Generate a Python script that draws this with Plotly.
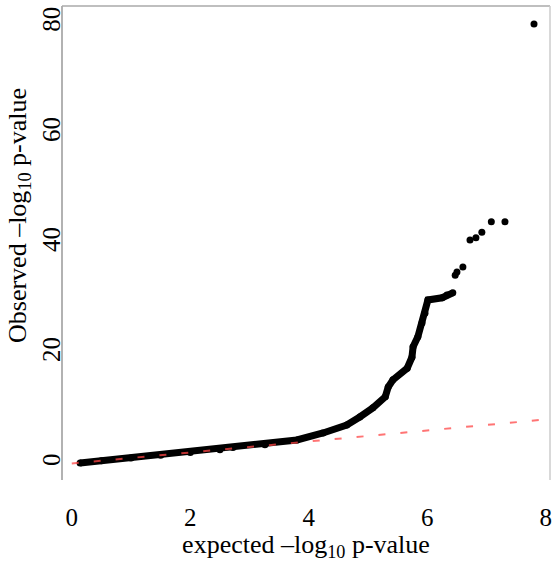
import plotly.graph_objects as go

# Observed vs expected -log10 p-values (dense part of the QQ curve)
expected_dense = [0.14, 0.5, 1.0, 1.5, 2.0, 2.5, 2.72, 3.26, 3.8, 4.24, 4.64, 4.86, 5.08, 5.29,
                  5.34, 5.42, 5.66, 5.74, 5.76, 5.84, 5.91, 5.96, 6.01, 6.25, 6.33, 6.43]
observed_dense = [0.09, 0.5, 1.0, 1.5, 2.0, 2.5, 2.9, 3.4, 4.27, 5.54, 6.99, 8.45, 10.1, 12.1,
                  13.9, 15.2, 17.3, 19.3, 21.2, 23.0, 25.5, 27.3, 29.7, 30.1, 30.6, 31.0]

# Sparse top points
expected_top = [6.47, 6.50, 6.60, 6.72, 6.82, 6.92, 7.08, 7.31, 7.80]
observed_top = [34.2, 34.8, 35.7, 40.6, 41.0, 42.0, 43.9, 43.9, 79.8]

# Null expectation line y = x
null_x = [0.0, 8.2]
null_y = [0.0, 8.2]

x_ticks = [0, 2, 4, 6, 8]
y_ticks = [0, 20, 40, 60, 80]

x_title = "expected \u2013log<sub>10</sub> p-value"
y_title = "Observed \u2013log<sub>10</sub> p-value"

font_family = "Liberation Serif, Times New Roman, serif"

fig = go.Figure()
fig.add_trace(go.Scatter(
    x=expected_dense, y=observed_dense, mode="lines+markers",
    line=dict(color="black", width=7),
    marker=dict(color="black", size=7),
    showlegend=False, hoverinfo="skip"))
fig.add_trace(go.Scatter(
    x=expected_top, y=observed_top, mode="markers",
    marker=dict(color="black", size=7),
    showlegend=False))
fig.add_trace(go.Scatter(
    x=null_x, y=null_y, mode="lines",
    line=dict(color="rgba(255,70,70,0.75)", width=2, dash="7px,15px"),
    showlegend=False))

fig.update_layout(
    width=553, height=562,
    margin=dict(l=62, r=3, t=6, b=82, autoexpand=False),
    paper_bgcolor="white", plot_bgcolor="white",
    font=dict(family=font_family, size=25, color="black"),
    xaxis=dict(
        range=[-0.165, 8.07], tickvals=x_ticks, showgrid=False, zeroline=False,
        showline=False, ticks="outside", ticklen=15, tickcolor="rgba(0,0,0,0)",
        tickfont=dict(size=25), automargin=False, ticklabeloverflow="allow",
        title=dict(text=x_title, font=dict(size=26), standoff=8),
    ),
    yaxis=dict(
        range=[-3.0, 83.09], tickvals=y_ticks, showgrid=False, zeroline=False,
        showline=False, ticks="", ticklabelstandoff=-4, ticklabeloverflow="allow",
        tickangle=-90, tickfont=dict(size=25), automargin=False,
    ),
    annotations=[
        dict(text=y_title, textangle=-90, xref="paper", yref="paper",
             x=0, y=0.557, xanchor="center", yanchor="middle", xshift=-43,
             showarrow=False, font=dict(size=26)),
    ],
    shapes=[
        dict(type="line", xref="paper", yref="paper", x0=0, x1=0, y0=0, y1=1,
             line=dict(color="#999999", width=1.5)),
        dict(type="line", xref="paper", yref="paper", x0=0, x1=1, y0=1, y1=1,
             line=dict(color="#aaaaaa", width=1.5)),
        dict(type="line", xref="paper", yref="paper", x0=1, x1=1, y0=0, y1=1,
             line=dict(color="#cccccc", width=1.5)),
    ],
)

fig.write_html(
    "out.html",
    config={"displayModeBar": False},
    post_script="document.body.style.margin='0';document.body.style.overflow='hidden';",
)
